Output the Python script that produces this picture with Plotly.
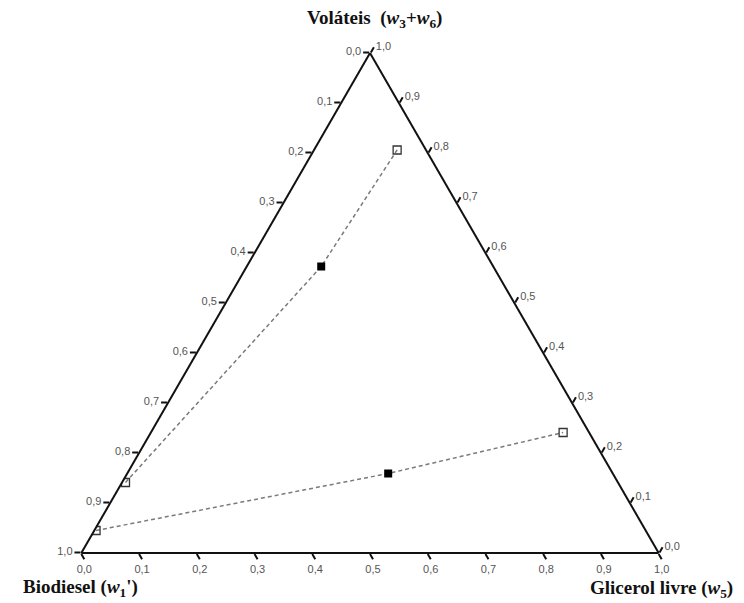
import plotly.graph_objects as go

# Ternary data: a = Voláteis (w3+w6), b = Biodiesel (w1'), c = Glicerol livre (w5)
line1_volateis = [0.141, 0.573, 0.806]
line1_biodiesel = [0.853, 0.298, 0.050]
line1_glicerol = [0.006, 0.129, 0.144]

line2_volateis = [0.045, 0.159, 0.241]
line2_biodiesel = [0.952, 0.389, 0.045]
line2_glicerol = [0.003, 0.452, 0.714]

tick_vals = [0.0, 0.1, 0.2, 0.3, 0.4, 0.5, 0.6, 0.7, 0.8, 0.9, 1.0]
tick_labels = ["0,0", "0,1", "0,2", "0,3", "0,4", "0,5", "0,6", "0,7", "0,8", "0,9", "1,0"]
# the original plot runs each edge in the opposite direction to Plotly's
edge_labels = tick_labels[::-1]

title_volateis = "<b>Voláteis  (<i>w</i><sub>3</sub>+<i>w</i><sub>6</sub>)</b>"
title_biodiesel = "<b>Biodiesel (<i>w</i><sub>1</sub>')</b>"
title_glicerol = "<b>Glicerol livre (<i>w</i><sub>5</sub>)</b>"

fig = go.Figure()

for V, B, G in [(line1_volateis, line1_biodiesel, line1_glicerol),
                (line2_volateis, line2_biodiesel, line2_glicerol)]:
    fig.add_trace(go.Scatterternary(
        a=V, b=B, c=G, mode="lines",
        line=dict(color="#7a7a7a", width=1.5, dash="4px,3px"),
        hoverinfo="skip", showlegend=False))
    fig.add_trace(go.Scatterternary(
        a=[V[0], V[2]], b=[B[0], B[2]], c=[G[0], G[2]], mode="markers",
        marker=dict(symbol="square-open", size=8, color="#333333", line=dict(width=1.3)),
        showlegend=False))
    fig.add_trace(go.Scatterternary(
        a=[V[1]], b=[B[1]], c=[G[1]], mode="markers",
        marker=dict(symbol="square", size=8, color="#000000"),
        showlegend=False))

tickfont = dict(family="Liberation Sans", size=11, color="#555555")
titlefont = dict(family="Liberation Serif", size=19, color="#111111")

def axis():
    return dict(
        title=dict(text=""),
        tickmode="array", tickvals=tick_vals, ticktext=edge_labels,
        tickfont=tickfont, ticks="outside", ticklen=6, tickwidth=1.5,
        tickcolor="#111111", linecolor="#111111", linewidth=2,
        showgrid=False, min=0)

L, R, T, B_ = 79, 83, 53, 50
PW, PH = 744 - L - R, 603 - T - B_

def px(x, y):
    return (x - L) / PW, (603 - B_ - y) / PH

annotations = []
for text, (cx, cy) in [(title_volateis, (374, 19)),
                       (title_biodiesel, (80, 588)),
                       (title_glicerol, (661, 589))]:
    ax, ay = px(cx, cy)
    annotations.append(dict(text=text, x=ax, y=ay, xref="paper", yref="paper",
                            xanchor="center", yanchor="middle", showarrow=False,
                            font=titlefont))

fig.update_layout(
    width=744, height=603,
    paper_bgcolor="white", plot_bgcolor="white",
    margin=dict(l=L, r=R, t=T, b=B_),
    ternary=dict(sum=1, bgcolor="white", aaxis=axis(), baxis=axis(), caxis=axis()),
    annotations=annotations,
)

fig.write_html("out.html", config={"displayModeBar": False},
               post_script="document.body.style.margin='0px';")
